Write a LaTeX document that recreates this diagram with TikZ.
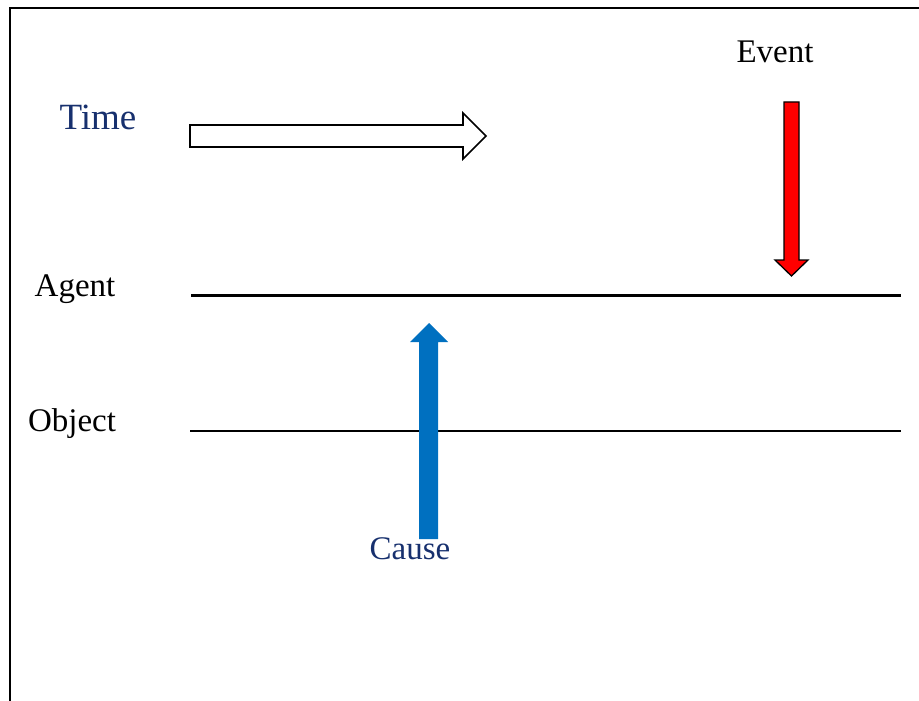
\documentclass[tikz,border=0pt]{standalone}
\usepackage{fontspec}
\setmainfont{Liberation Serif}
\definecolor{navy}{HTML}{17306E}
\definecolor{causeblue}{HTML}{0070C0}
\begin{document}
\begin{tikzpicture}[x=1pt,y=-1pt,
  lbl/.style={font=\fontsize{33}{38}\selectfont, inner sep=0pt, anchor=base},
  hline/.style={draw=black, line width=2.4pt},
  blockarrow/.style={draw=black, line width=1.6pt, line join=miter}]
\useasboundingbox (0,0) rectangle (919,701);
\fill[white] (0,0) rectangle (919,701);
% frame (top and left)
\draw[line width=2pt] (919,8) -- (9.5,8) -- (9.5,701);
% labels
\node[lbl, text=navy, font=\fontsize{37}{42}\selectfont] (time) at (98,129) {Time};
\node[lbl] (event) at (775,63) {Event};
\node[lbl] (agent) at (75,296) {Agent};
\node[lbl] (object) at (72,431) {Object};
\node[lbl, text=navy] (cause) at (410,559) {Cause};
% time arrow (outline)
\draw[blockarrow, fill=white] (190,125) -- (463,125) -- (463,113) -- (486,136) -- (463,159) -- (463,147) -- (190,147) -- cycle;
% lines
\coordinate (a1) at (191,295.5);
\coordinate (a2) at (901,295.5);
\coordinate (o1) at (190,430.5);
\coordinate (o2) at (901,430.5);
\draw[hline] (a1) -- (a2);
\draw[hline, line width=2pt] (o1) -- (o2);
% event arrow (red)
\draw[blockarrow, fill=red, line width=1.3pt] (784,102) -- (799,102) -- (799,260) -- (808,260) -- (791.5,276) -- (775,260) -- (784,260) -- cycle;
% cause arrow (blue)
\fill[causeblue] (419,539) -- (438,539) -- (438,342) -- (448,342) -- (429,323) -- (410,342) -- (419,342) -- cycle;
\end{tikzpicture}
\end{document}
